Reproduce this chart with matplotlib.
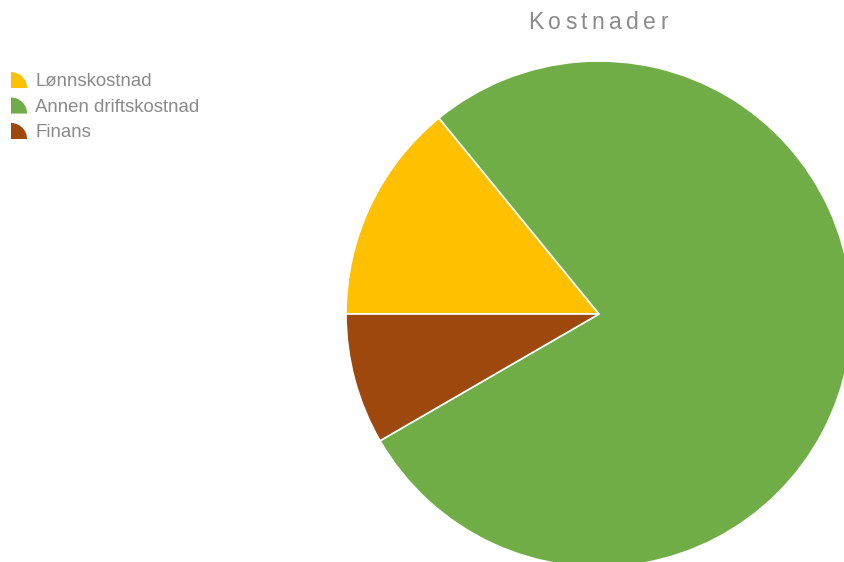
import matplotlib
matplotlib.use("Agg")
import matplotlib.pyplot as plt
from matplotlib.legend_handler import HandlerPatch
from matplotlib.patches import Wedge

labels = ["Lønnskostnad", "Annen driftskostnad", "Finans"]
shares = [14.1, 77.55, 8.35]
colors = ["#FFC000", "#70AD47", "#9E480E"]
title = "Kostnader"

plt.rcParams["font.family"] = ["Liberation Sans", "DejaVu Sans"]
TEXT_GREY = "#8a8a8a"


class QuarterWedgeHandler(HandlerPatch):
    def create_artists(self, legend, orig_handle, xdescent, ydescent,
                       width, height, fontsize, trans):
        w = Wedge((-xdescent, -ydescent), height, 0, 90,
                  facecolor=orig_handle.get_facecolor(), edgecolor="none",
                  transform=trans)
        return [w]


def main():
    W, H = 845, 562
    fig = plt.figure(figsize=(W / 100, H / 100), dpi=100)
    ax = fig.add_axes([0, 0, 1, 1])

    wedges, _ = ax.pie(shares, colors=colors, startangle=180,
                       counterclock=False, center=(599, 248), radius=253,
                       wedgeprops=dict(edgecolor="white", linewidth=1.2))
    ax.set_xlim(0, W)
    ax.set_ylim(0, H)
    ax.set_aspect("equal")
    ax.axis("off")

    fig.legend(wedges, labels, loc="upper left",
               bbox_to_anchor=(11 / W, 1 - 72 / H),
               frameon=False, fontsize=13.4, labelcolor=TEXT_GREY,
               handlelength=0.95, handleheight=0.95, handletextpad=0.35,
               labelspacing=0.38, borderpad=0, borderaxespad=0,
               handler_map={Wedge: QuarterWedgeHandler()})

    # title is drawn letter-spaced: place each char, spread to target width
    renderer = fig.canvas.get_renderer()
    target_w = 140
    pieces = []
    for ch in title:
        t = fig.text(0, 0, ch, fontsize=16.5, color=TEXT_GREY,
                     ha="left", va="baseline")
        pieces.append((t, t.get_window_extent(renderer).width))
    spacing = (target_w - sum(w for _, w in pieces)) / (len(pieces) - 1)
    x = 598 - target_w / 2
    for t, wpx in pieces:
        t.set_position((x / W, (H - 29) / H))
        x += wpx + spacing

    fig.savefig("out.png", dpi=100)


if __name__ == "__main__":
    main()
